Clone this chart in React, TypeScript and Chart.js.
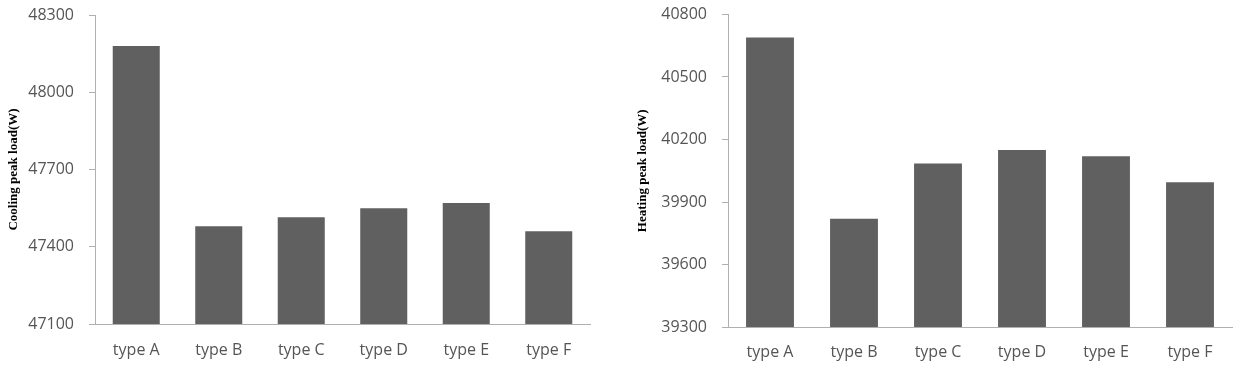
import React, { useEffect, useRef } from "react";
import { Chart, registerables } from "chart.js";

Chart.register(...registerables);

const categories = ["type A", "type B", "type C", "type D", "type E", "type F"];
const coolingValues = [48180, 47480, 47515, 47550, 47570, 47460];
const heatingValues = [40690, 39820, 40085, 40150, 40120, 39995];
const coolingTicks = [47100, 47400, 47700, 48000, 48300];
const heatingTicks = [39300, 39600, 39900, 40200, 40500, 40800];

const AXIS = "#b0b0b0";
const TEXT = "#555555";
const BAR = "#606060";

type Cfg = {
  values: number[];
  ticks: number[];
  title: string;
  yWidth: number;
  xHeight: number;
  padTop: number;
  padRight: number;
  titlePad: number;
  xPad: number;
};

function makeChart(canvas: HTMLCanvasElement, c: Cfg) {
  const min = c.ticks[0];
  const max = c.ticks[c.ticks.length - 1];
  return new Chart(canvas, {
    type: "bar",
    data: {
      labels: categories,
      datasets: [
        {
          data: c.values,
          backgroundColor: BAR,
          borderWidth: 0,
          barPercentage: 0.57,
          categoryPercentage: 1,
        },
      ],
    },
    options: {
      animation: false,
      responsive: false,
      layout: { padding: { left: 0, top: c.padTop, right: c.padRight, bottom: 0 } },
      plugins: { legend: { display: false }, tooltip: { enabled: false } },
      scales: {
        x: {
          grid: { display: false },
          border: { display: true, color: AXIS, width: 1 },
          ticks: {
            color: TEXT,
            font: { family: "Open Sans", size: 16 },
            padding: c.xPad,
            maxRotation: 0,
          },
          afterFit: (s: any) => {
            s.height = c.xHeight;
            s.paddingLeft = 0;
            s.paddingRight = 0;
          },
        },
        y: {
          min,
          max,
          afterBuildTicks: (s: any) => {
            s.ticks = c.ticks.map((v) => ({ value: v }));
          },
          grid: { drawOnChartArea: false, drawTicks: true, tickLength: 6, color: AXIS },
          border: { display: true, color: AXIS, width: 1 },
          ticks: {
            color: TEXT,
            font: { family: "Open Sans", size: 16 },
            padding: 15,
            callback: (v: any) => String(v),
          },
          title: {
            display: true,
            text: c.title,
            color: "#000000",
            font: { family: "Liberation Serif", size: 13, weight: "bold" },
            padding: { top: c.titlePad, bottom: 0 },
          },
          afterFit: (s: any) => {
            s.width = c.yWidth;
            s.paddingTop = 0;
            s.paddingBottom = 0;
          },
        },
      },
    },
  } as any);
}

export default function App() {
  const leftRef = useRef<HTMLCanvasElement>(null);
  const rightRef = useRef<HTMLCanvasElement>(null);

  useEffect(() => {
    const a = makeChart(leftRef.current!, {
      values: coolingValues,
      ticks: coolingTicks,
      title: "Cooling peak load(W)",
      yWidth: 95,
      xHeight: 42,
      padTop: 15,
      padRight: 20,
      titlePad: 6,
      xPad: 9,
    });
    const b = makeChart(rightRef.current!, {
      values: heatingValues,
      ticks: heatingTicks,
      title: "Heating peak load(W)",
      yWidth: 108,
      xHeight: 39,
      padTop: 14.5,
      padRight: 5,
      titlePad: 15,
      xPad: 8,
    });
    return () => {
      a.destroy();
      b.destroy();
    };
  }, []);

  return (
    <div style={{ position: "absolute", left: 0, top: 0, width: 1237, height: 366, background: "#fff" }}>
      <canvas ref={leftRef} width={610} height={366} style={{ position: "absolute", left: 0, top: 0 }} />
      <canvas ref={rightRef} width={617} height={366} style={{ position: "absolute", left: 620, top: 0 }} />
    </div>
  );
}
